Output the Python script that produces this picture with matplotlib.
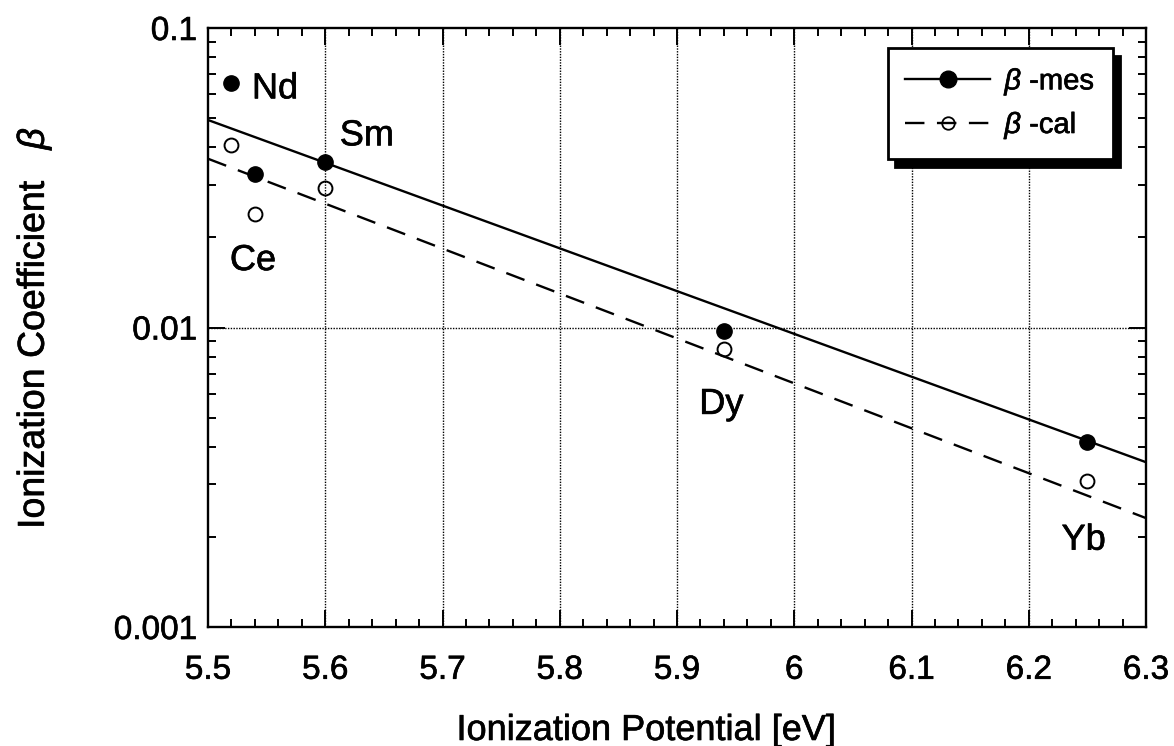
import matplotlib
matplotlib.use("Agg")
import matplotlib.pyplot as plt
from matplotlib.ticker import LogLocator, NullFormatter, FixedLocator, MultipleLocator
import matplotlib.patheffects as pe

plt.rcParams['font.family'] = ['Liberation Sans', 'DejaVu Sans']
plt.rcParams['mathtext.fontset'] = 'custom'
plt.rcParams['mathtext.it'] = 'Liberation Sans:italic'
plt.rcParams['mathtext.rm'] = 'Liberation Sans'
plt.rcParams['lines.scale_dashes'] = False

# Data
elements = ["Nd", "Ce", "Sm", "Dy", "Yb"]
ion_potential = [5.52, 5.54, 5.60, 5.94, 6.25]
beta_mes = [0.0656, 0.0326, 0.0357, 0.0097, 0.00414]
beta_cal = [0.0407, 0.0240, 0.0293, 0.0085, 0.00307]

fit_x = [5.5, 6.3]
fit_mes = [0.0493, 0.00355]
fit_cal = [0.0366, 0.00231]

xt = [5.5, 5.6, 5.7, 5.8, 5.9, 6.0, 6.1, 6.2, 6.3]
xt_labels = ["5.5", "5.6", "5.7", "5.8", "5.9", "6", "6.1", "6.2", "6.3"]
yt = [0.001, 0.01, 0.1]
yt_labels = ["0.001", "0.01", "0.1"]

# element label positions (x, y) in data coords
label_pos = {"Nd": (5.5375, 0.0646), "Sm": (5.6124, 0.0450), "Ce": (5.5187, 0.01725),
             "Dy": (5.919, 0.00571), "Yb": (6.228, 0.00201)}

thick = [pe.withStroke(linewidth=0.45, foreground='black')]

fig = plt.figure(figsize=(11.74, 7.46), dpi=100)
ax = fig.add_axes([208/1174, 1 - 627/746, (1146-208)/1174, (627-28)/746])

ax.set_yscale('log')
ax.set_xlim(5.5, 6.3)
ax.set_ylim(0.001, 0.1)

# grid
for gx in xt[1:-1]:
    ax.axvline(gx, color='black', lw=1.0, ls=(0, (1, 1)), zorder=1)
ax.axhline(0.01, color='black', lw=1.0, ls=(0, (1, 1)), zorder=1)

# fit lines
ax.plot(fit_x, fit_mes, color='black', lw=1.7, zorder=2)
ax.plot(fit_x, fit_cal, color='black', lw=1.7, dashes=(14, 9), zorder=2)

# data points
ax.plot(ion_potential, beta_mes, 'o', color='black', ms=11, zorder=4)
ax.plot(ion_potential, beta_cal, 'o', mfc='none', mec='black', mew=1.4, ms=10, zorder=3)

for el in elements:
    x, y = label_pos[el]
    ax.text(x, y, el, fontsize=26, ha='left', va='center_baseline', zorder=5, path_effects=thick)

# ticks
ax.set_xticks(xt)
ax.set_xticklabels(xt_labels)
ax.xaxis.set_minor_locator(MultipleLocator(0.02))
ax.yaxis.set_major_locator(FixedLocator(yt))
ax.set_yticklabels(yt_labels)
ax.yaxis.set_minor_locator(LogLocator(base=10, subs=range(2, 10)))
ax.yaxis.set_minor_formatter(NullFormatter())

ax.tick_params(which='both', direction='in', top=True, right=True, width=1.4, labelsize=24)
ax.tick_params(which='major', length=12)
ax.tick_params(which='minor', length=6)
ax.tick_params(axis='x', which='major', pad=20)
ax.tick_params(axis='y', which='major', pad=8)
for lab in ax.get_xticklabels() + ax.get_yticklabels():
    lab.set_path_effects(thick)

for s in ax.spines.values():
    s.set_linewidth(1.7)

fig.text(646/1174, 1 - 740/746, "Ionization Potential [eV]", fontsize=26,
         ha='center', va='baseline', path_effects=thick)
fig.text(34/1174, 1 - 328/746, "Ionization Coefficient   $\\beta$", fontsize=27,
         rotation=90, ha='center', va='center', path_effects=thick)

# legend
h1, = ax.plot([], [], '-o', color='black', ms=12, lw=1.7)
h2, = ax.plot([], [], 'o', mfc='none', mec='black', mew=1.3, ms=9, ls='-', color='black', lw=1.7)
h2.set_dashes((14, 9))
leg = ax.legend([h1, h2], ["$\\it{\\beta}$ -mes", "$\\it{\\beta}$ -cal"], loc='upper right',
                bbox_to_anchor=(1113/1174, 1 - 48/746), bbox_transform=fig.transFigure,
                borderaxespad=0,
                fontsize=21, frameon=True, fancybox=False, handlelength=2.9,
                borderpad=0.6, labelspacing=0.4, handletextpad=0.5,
                shadow={'color': 'black', 'alpha': 1.0, 'ox': 5, 'oy': -6})
leg.get_frame().set_edgecolor('black')
leg.get_frame().set_linewidth(2.0)
leg.set_zorder(10)
for t in leg.get_texts():
    t.set_path_effects(thick)

fig.savefig("out.png", dpi=100)
